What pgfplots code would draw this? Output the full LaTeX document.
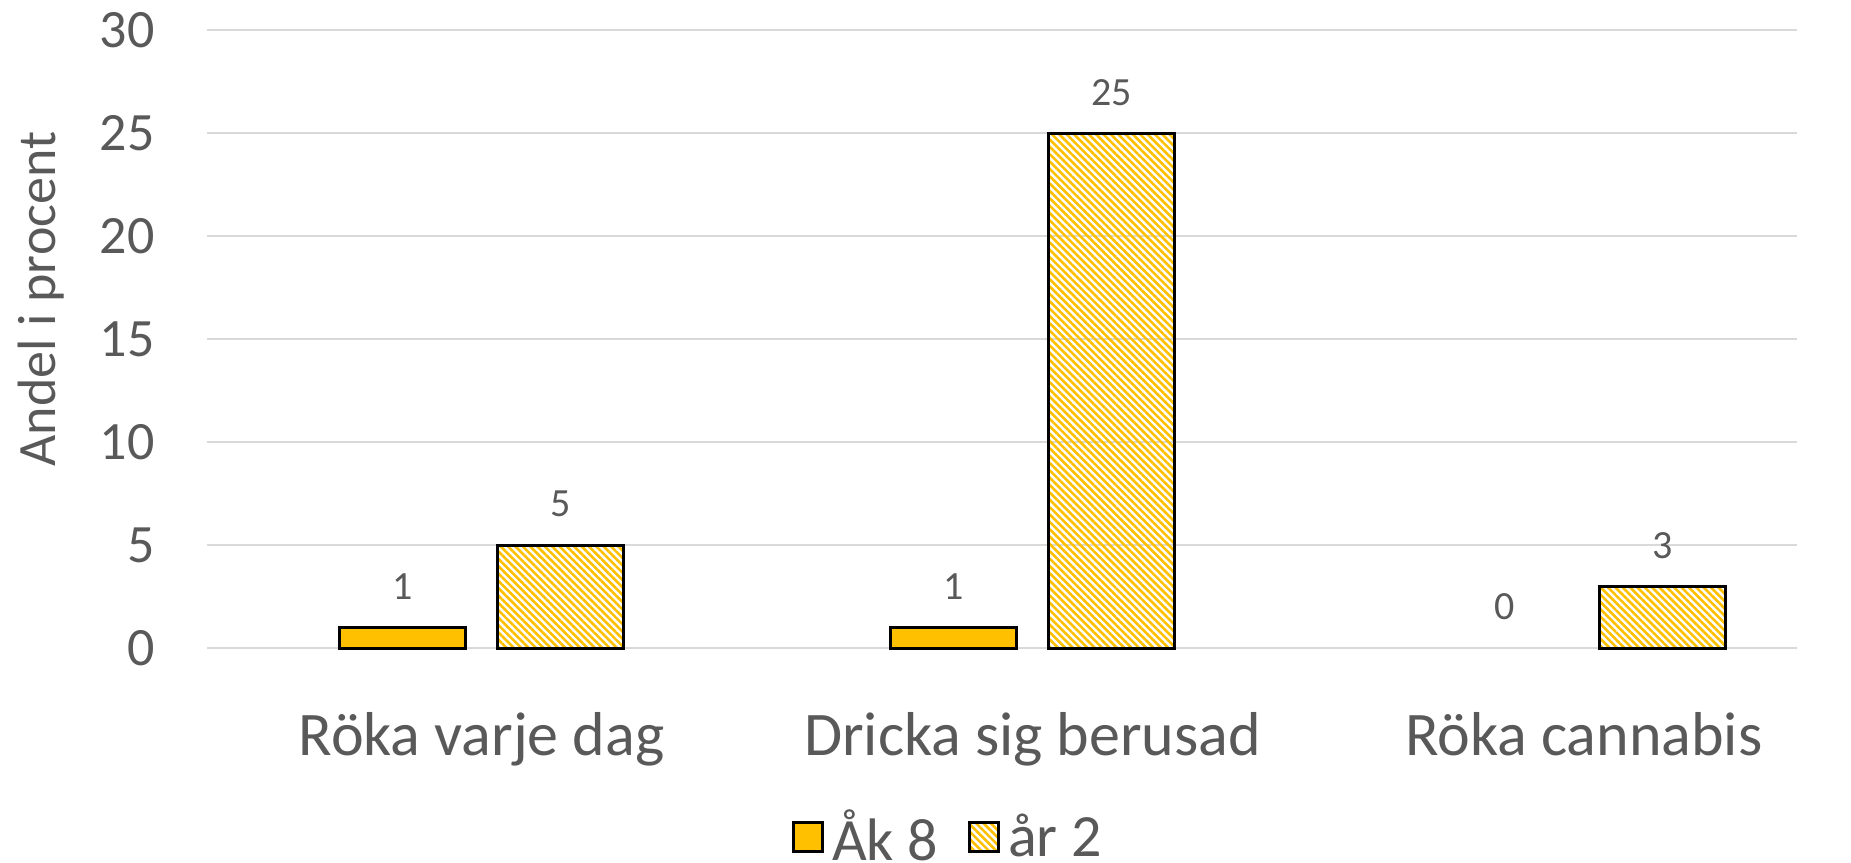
\documentclass[border=0pt]{standalone}
\usepackage{pgfplots}
\pgfplotsset{compat=1.18}
\usepackage{fontspec}
\setmainfont{Carlito}
\usetikzlibrary{patterns.meta}
\definecolor{barorange}{HTML}{FFC000}
\definecolor{txtgray}{HTML}{595959}
\definecolor{gridgray}{HTML}{D9D9D9}
\begin{document}
\begin{tikzpicture}
\begin{axis}[
  name=ax,
  scale only axis,
  width=795pt, height=308.75pt,
  xmin=-0.498, xmax=2.387,
  ymin=0, ymax=30,
  ytick={0,5,...,30},
  xtick={0,1,2},
  xticklabels={Röka varje dag, Dricka sig berusad, Röka cannabis},
  axis line style={draw=none},
  major tick length=0pt,
  ymajorgrids,
  grid style={gridgray, line width=1pt},
  clip=false,
  /pgf/number format/assume math mode=true,
  yticklabel style={font=\fontsize{27}{30}\selectfont, text=txtgray, anchor=east, inner sep=0pt, xshift=-26pt},
  xticklabel style={font=\fontsize{31}{35}\selectfont, text=txtgray, anchor=base, inner sep=0pt, yshift=-53.5pt},
  ylabel={Andel i procent},
  ylabel style={font=\fontsize{27}{30}\selectfont, text=txtgray, at={(axis description cs:-0.1044,0.565)}, rotate=0, anchor=center},
  bar width=0.2287,
  nodes near coords,
  every node near coord/.append style={font=\fontsize{20}{24}\selectfont, text=txtgray, anchor=center, yshift=20.5pt},
  legend style={at={(axis description cs:0.4666,-0.306)}, anchor=center, draw=none, legend columns=2,
    inner ysep=0pt, nodes={inner ysep=1pt},
    font=\fontsize{30}{34}\selectfont, text=txtgray,
    /tikz/every odd column/.append style={column sep=2pt},
    /tikz/every even column/.append style={column sep=13pt}},
  legend image code/.code={\draw[#1] (0pt,-7.5pt) rectangle (14.5pt,7pt);},
]
\addplot[ybar, bar shift=-0.143, fill=barorange, draw=black, line width=1.5pt,
  every node near coord/.append style={xshift=-39.4pt}] coordinates {(0,1) (1,1)};
\addlegendentry{Åk 8}
\addplot[ybar, bar shift=0.143, draw=black, line width=1.5pt,
  pattern={Lines[angle=-45, distance=2.6pt, line width=1.3pt]}, pattern color=barorange,
  every node near coord/.append style={xshift=39.4pt}] coordinates {(0,5) (1,25) (2,3)};
\addlegendentry{år 2}
\addplot[ybar, bar shift=-0.143, draw=none, fill=none, forget plot,
  every node near coord/.append style={xshift=-39.4pt}] coordinates {(2,0)};
\end{axis}
\pgfresetboundingbox
\path ([xshift=-103.5pt,yshift=-107pt]ax.south west) rectangle ([xshift=27pt,yshift=15.25pt]ax.north east);
\end{tikzpicture}
\end{document}
